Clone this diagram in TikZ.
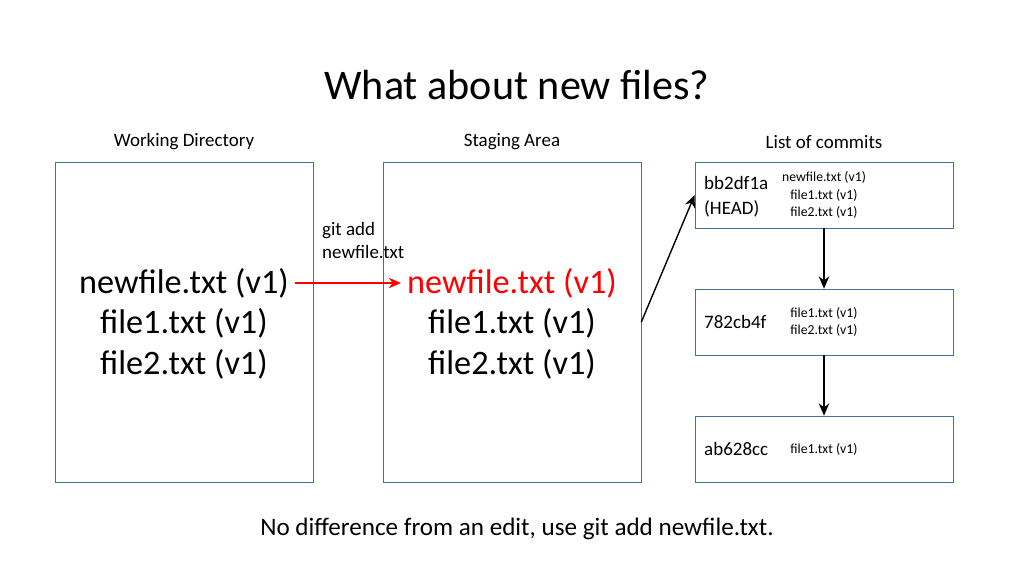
\documentclass[tikz,border=0pt]{standalone}
\usepackage{fontspec}
\setmainfont{Carlito}
\usetikzlibrary{arrows.meta}
\definecolor{boxline}{HTML}{41719C}
\begin{document}
\begin{tikzpicture}[x=0.02cm,y=-0.02cm,
		area/.style={rectangle, draw=boxline, minimum width=5.16cm, minimum height=6.4cm},
		commit/.style={rectangle, draw=boxline, minimum width=5.16cm, minimum height=1.32cm},
		big/.style={align=center, font=\fontsize{19.5}{23}\selectfont},
		head/.style={font=\fontsize{10.8}{13}\selectfont},
		tiny/.style={align=center, font=\fontsize{7.8}{10}\selectfont},
		hash/.style={align=left, anchor=west, font=\fontsize{10.8}{14}\selectfont},
		arrow/.style={-{Stealth[length=7pt,width=6pt]}, thick}
	]
		\useasboundingbox (0,0) rectangle (1024,576);
		% Title
		\node[font=\fontsize{24}{28}\selectfont] (title) at (517,85) {What about new files?};
		
		% Headings
		\node[head] (hwd) at (184,142) {Working Directory};
		\node[head] (hsa) at (512,142) {Staging Area};
		\node[head] (hlc) at (824,142) {List of commits};
		
		% Areas
		\node[area] (wd) at (184,322) {};
		\node[area] (sa) at (512,322) {};
		
		% File lists
		\node[big] (wdnew) at (184,283) {newfile.txt (v1)};
		\node[big] (wdrest) at (184,344) {file1.txt (v1)\\file2.txt (v1)};
		\node[big, text=red] (sanew) at (512,283) {newfile.txt (v1)};
		\node[big] (sarest) at (512,344) {file1.txt (v1)\\file2.txt (v1)};
		
		% Commits
		\node[commit] (c1) at (824,195) {};
		\node[commit] (c2) at (824,322) {};
		\node[commit] (c3) at (824,449) {};
		\node[hash] (h1) at (698,197) {bb2df1a\\(HEAD)};
		\node[hash] (h2) at (698,322) {782cb4f};
		\node[hash] (h3) at (698,449) {ab628cc};
		\node[tiny] (f1) at (824,195) {newfile.txt (v1)\\file1.txt (v1)\\file2.txt (v1)};
		\node[tiny] (f2) at (824,322) {file1.txt (v1)\\file2.txt (v1)};
		\node[tiny] (f3) at (824,449) {file1.txt (v1)};
		
		% Arrows
		\draw[arrow, red] (wdnew.east) -- (sanew.west);
		\node[head, align=left, anchor=south west] (gitadd) at (316,265) {git add\\newfile.txt};
		\draw[arrow] (sa.east) -- (c1.west);
		\draw[arrow] (c1) -- (c2);
		\draw[arrow] (c2) -- (c3);
		
		% Footer
		\node[font=\fontsize{14.3}{17}\selectfont] (foot) at (517,529) {No difference from an edit, use git add newfile.txt.};
	\end{tikzpicture}
\end{document}
